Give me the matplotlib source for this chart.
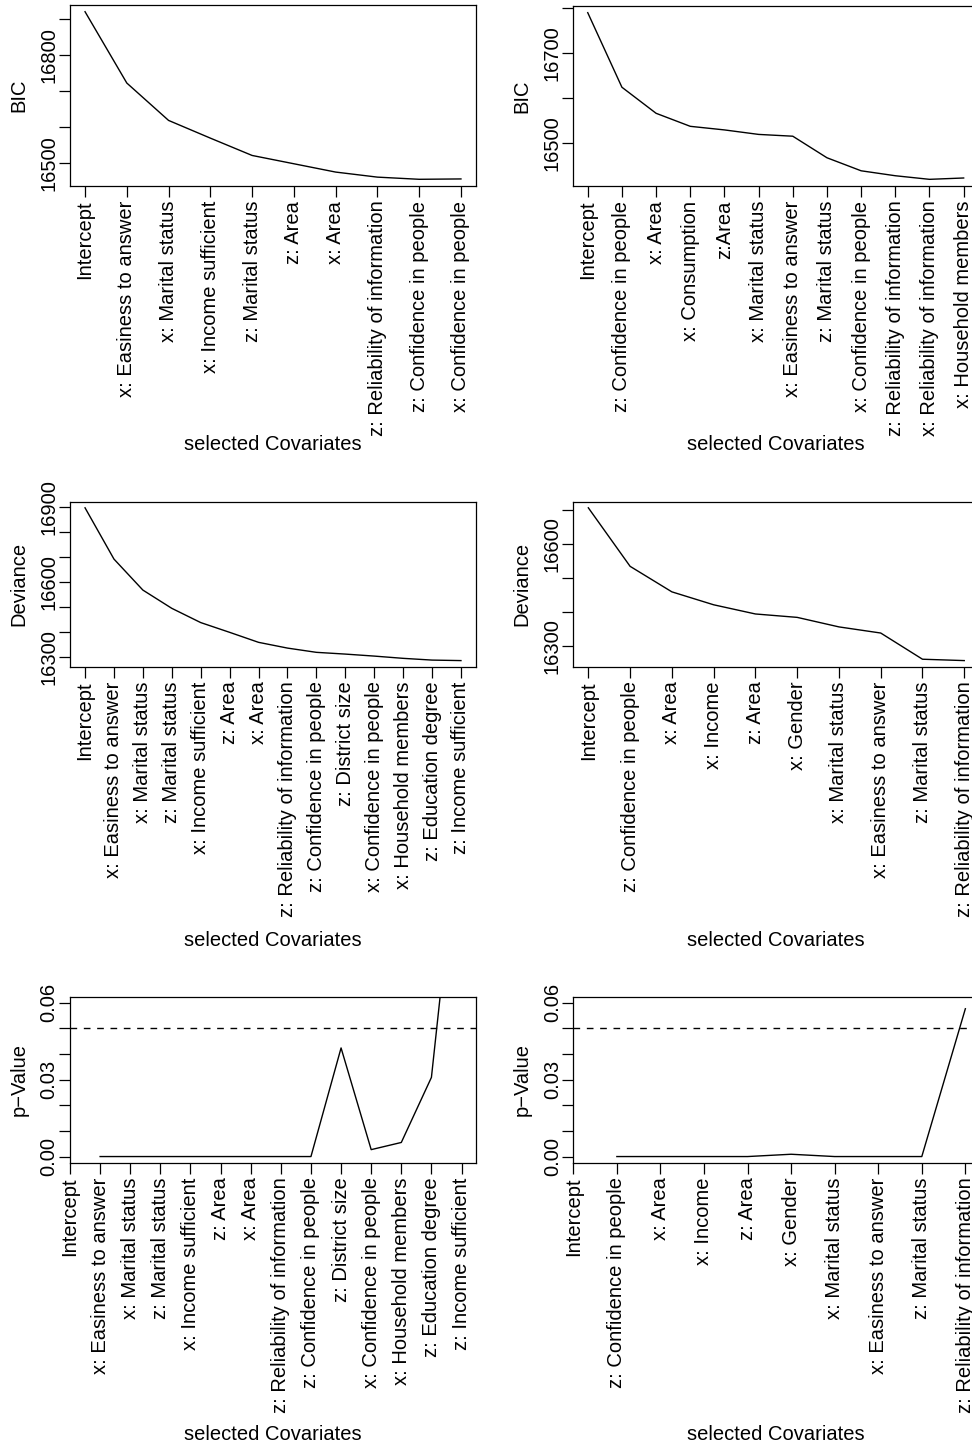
import numpy as np
import matplotlib
matplotlib.use("Agg")
import matplotlib.pyplot as plt
from matplotlib.transforms import blended_transform_factory

plt.rcParams['font.family'] = ['Liberation Sans', 'DejaVu Sans']
plt.rcParams['lines.scale_dashes'] = False

# ---------------- data ----------------
bic1_labels = ["Intercept", "x: Easiness to answer", "x: Marital status", "x: Income sufficient",
               "z: Marital status", "z: Area", "x: Area", "z: Reliability of information",
               "z: Confidence in people", "x: Confidence in people"]
bic1_values = [16919, 16721.5, 16618, 16569, 16521, 16498, 16475, 16461, 16455, 16456]

bic2_labels = ["Intercept", "z: Confidence in people", "x: Area", "x: Consumption", "z:Area",
               "x: Marital status", "x: Easiness to answer", "z: Marital status",
               "x: Confidence in people", "z: Reliability of information",
               "x: Reliability of information", "x: Household members"]
bic2_values = [16790, 16624, 16566, 16537, 16529, 16519, 16515, 16467, 16438, 16427, 16419, 16422]

dev1_labels = ["Intercept", "x: Easiness to answer", "x: Marital status", "z: Marital status",
               "x: Income sufficient", "z: Area", "x: Area", "z: Reliability of information",
               "z: Confidence in people", "z: District size", "x: Confidence in people",
               "x: Household members", "z: Education degree", "z: Income sufficient"]
dev1_values = [16898, 16693, 16569, 16496, 16439, 16400, 16360, 16337, 16320, 16313, 16305,
               16296, 16289, 16287]

dev2_labels = ["Intercept", "z: Confidence in people", "x: Area", "x: Income", "z: Area",
               "x: Gender", "x: Marital status", "x: Easiness to answer", "z: Marital status",
               "z: Reliability of information"]
dev2_values = [16707, 16535, 16460, 16422, 16395, 16385, 16357, 16339, 16262, 16258]

p1_values = [np.nan, 0.0, 0.0, 0.0, 0.0, 0.0, 0.0, 0.0, 0.0, 0.0424, 0.0027, 0.0055, 0.0309, 0.14]
p2_values = [np.nan, 0.0, 0.0, 0.0, 0.0, 0.0009, 0.0, 0.0, 0.0, 0.0577]

bic1_yticks = [16500, 16600, 16700, 16800, 16900]
bic1_ylabels = ["16500", "", "", "16800", ""]
bic2_yticks = [16500, 16600, 16700, 16800]
bic2_ylabels = ["16500", "", "16700", ""]
dev1_yticks = [16300, 16400, 16500, 16600, 16700, 16800, 16900]
dev1_ylabels = ["16300", "", "", "16600", "", "", "16900"]
dev2_yticks = [16300, 16400, 16500, 16600, 16700]
dev2_ylabels = ["16300", "", "", "16600", ""]
p_yticks = [0.00, 0.01, 0.02, 0.03, 0.04, 0.05, 0.06]
p_ylabels = ["0.00", "", "", "0.03", "", "", "0.06"]
p_threshold = 0.05

# ---------------- layout ----------------
W, H = 972, 1447
fig = plt.figure(figsize=(W / 100, H / 100), dpi=100)
FS = 14.5
LW = 1.0

def px_axes(left, top, right, bottom):
    return fig.add_axes([left / W, 1 - bottom / H, (right - left) / W, (bottom - top) / H])

def style(ax, labels, ylab, yticks, ylabels, xlab_y):
    n = len(labels)
    ax.set_xticks(np.arange(1, n + 1))
    ax.set_xticklabels(labels, rotation=90, fontsize=FS)
    ax.set_yticks(yticks)
    ax.set_yticklabels(ylabels, rotation=90, va='center', fontsize=FS)
    ax.tick_params(axis='x', length=8, width=LW * 0.9, pad=2.6, direction='out')
    ax.tick_params(axis='y', length=8, width=LW * 0.9, pad=0.3, direction='out')
    for s in ax.spines.values():
        s.set_linewidth(LW * 0.9)
        s.set_color('black')
    pos = ax.get_position()
    tr = blended_transform_factory(ax.transAxes, ax.transAxes)
    ax.text(-51 / (pos.width * W), 0.5, ylab, rotation=90, ha='center', va='center',
            fontsize=FS, transform=tr)
    xc = pos.x0 + pos.width / 2
    fig.text(xc, 1 - xlab_y / H, "selected Covariates", ha='center', va='center', fontsize=FS)

# Row 1
ax = px_axes(70, 5, 476, 186)
x = np.arange(1, len(bic1_values) + 1)
ax.plot(x, bic1_values, color='black', lw=LW)
ax.margins(x=0.04, y=0.04)
style(ax, bic1_labels, "BIC", bic1_yticks, bic1_ylabels, 445)

ax = px_axes(572.7, 6, 978.7, 186)
x = np.arange(1, len(bic2_values) + 1)
ax.plot(x, bic2_values, color='black', lw=LW)
ax.margins(x=0.04, y=0.04)
style(ax, bic2_labels, "BIC", bic2_yticks, bic2_ylabels, 445)

# Row 2
ax = px_axes(70, 501.7, 476, 666.7)
x = np.arange(1, len(dev1_values) + 1)
ax.plot(x, dev1_values, color='black', lw=LW)
ax.margins(x=0.04, y=0.04)
style(ax, dev1_labels, "Deviance", dev1_yticks, dev1_ylabels, 940)

ax = px_axes(573.3, 501.7, 979.3, 666.7)
x = np.arange(1, len(dev2_values) + 1)
ax.plot(x, dev2_values, color='black', lw=LW)
ax.margins(x=0.04, y=0.04)
style(ax, dev2_labels, "Deviance", dev2_yticks, dev2_ylabels, 940)

# Row 3
ax = px_axes(70, 996.7, 476, 1162.7)
x = np.arange(1, len(p1_values) + 1)
ax.plot(x, p1_values, color='black', lw=LW)
ax.axhline(p_threshold, color='black', lw=LW, linestyle=(0, (4.8, 4.8)))
ax.margins(x=0.04)
ax.set_ylim(-0.0024, 0.0624)
style(ax, dev1_labels, "p\u2212Value", p_yticks, p_ylabels, 1435)

ax = px_axes(573.3, 996.7, 979.3, 1162.7)
x = np.arange(1, len(p2_values) + 1)
ax.plot(x, p2_values, color='black', lw=LW)
ax.axhline(p_threshold, color='black', lw=LW, linestyle=(0, (4.8, 4.8)))
ax.margins(x=0.04)
ax.set_ylim(-0.0024, 0.0624)
style(ax, dev2_labels, "p\u2212Value", p_yticks, p_ylabels, 1435)

fig.savefig("out.png", dpi=100)
